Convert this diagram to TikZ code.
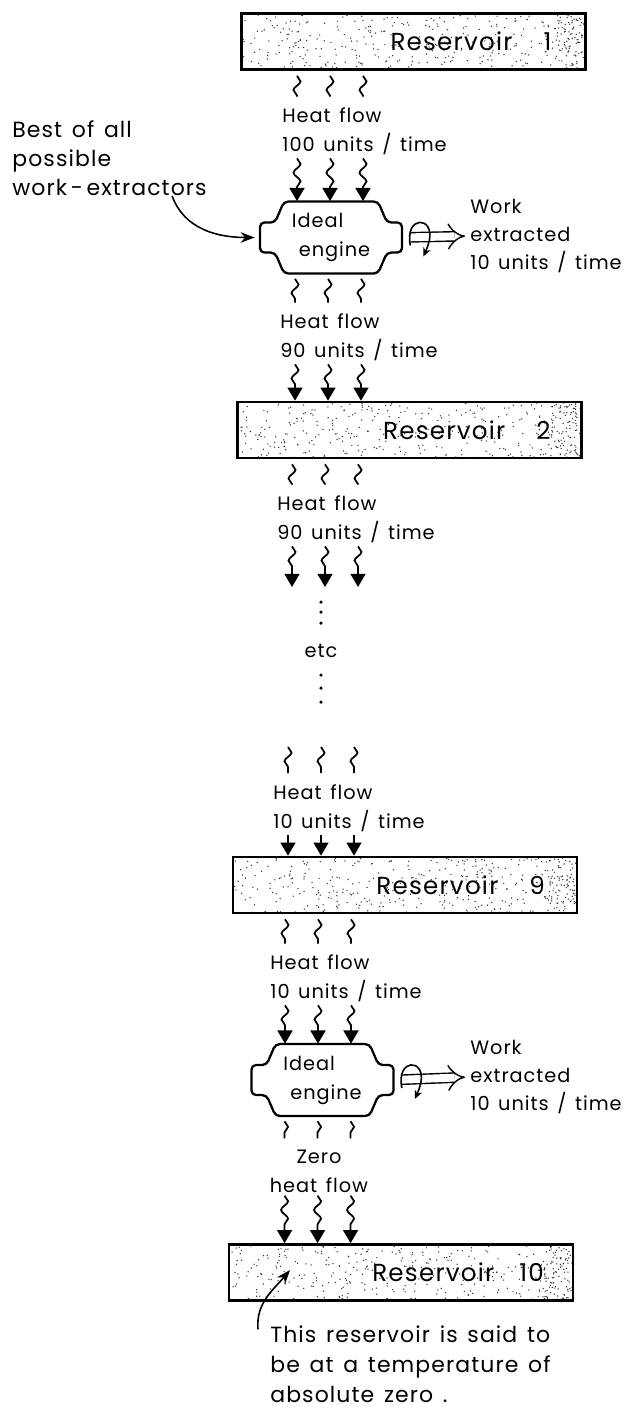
\documentclass[tikz,border=0pt]{standalone}
\usepackage{fontspec}
\setmainfont{Poppins}[LetterSpace=5, WordSpace=1.4]
\usetikzlibrary{arrows.meta,positioning,calc,decorations.pathmorphing}

\begin{document}
\begin{tikzpicture}[
  x=0.02cm, y=-0.02cm,
  font=\fontsize{11}{16.5}\selectfont,
  >={Triangle[width=8.5pt,length=7.5pt]},
  res/.style={rectangle, draw, line width=1.5pt, minimum width=6.88cm, minimum height=1.12cm, inner sep=0pt,
              path picture={
                \foreach \k in {1,...,340}{\fill[black!80] (path picture bounding box.south west) ++(344*rnd,-56*rnd) circle[radius=0.42pt];}
                \foreach \k in {1,...,80}{\fill[black!80] (path picture bounding box.south east) ++(-30*rnd,-56*rnd) circle[radius=0.42pt];}}},
  reslbl/.style={font=\fontsize{14}{16}\selectfont, inner sep=0pt},
  engine/.style={rectangle, minimum width=2.84cm, minimum height=1.44cm, align=left, inner sep=0pt},
  engline/.style={line width=1.3pt, rounded corners=2.5pt},
  flowlbl/.style={anchor=west, align=left, inner sep=0pt},
  worklbl/.style={anchor=west, align=left, inner sep=0pt, font=\fontsize{11}{15.8}\selectfont},
  note/.style={anchor=west, align=left, inner sep=0pt},
  wave/.style={decorate, decoration={snake, amplitude=2pt, segment length=10pt}, line width=1pt},
  inflow/.style={->, decorate, decoration={snake, amplitude=2pt, segment length=10pt, post length=8pt}, line width=1pt},
  work/.style={double, double distance=4.5pt, line width=0.8pt, -{Implies}, shorten <=0.16cm, shorten >=0.1cm},
  spin/.style={line width=0.9pt, -{Stealth[length=5pt,width=4.5pt]}},
  point/.style={line width=0.9pt, -{Stealth[length=8pt,width=6pt]}},
]
\useasboundingbox (0,0) rectangle (628,1411);
\pgfmathsetseed{7}

% reservoirs
\node[res] (res1)  at (413.5,41.5) {};
\node[res] (res2)  at (409.5,430) {};
\node[res] (res9)  at (405,885) {};
\node[res] (res10) at (401,1272.5) {};
\node[reslbl, left=0.7cm of res1.east]   (res1txt)  {Reservoir\hspace{0.62cm}1};
\node[reslbl, left=0.64cm of res2.east]  (res2txt)  {Reservoir\hspace{0.62cm}2};
\node[reslbl, left=0.66cm of res9.east]  (res9txt)  {Reservoir\hspace{0.62cm}9};
\node[reslbl, left=0.6cm of res10.east]  (res10txt) {Reservoir\hspace{0.5cm}10};

% engines
\node[engine] (eng1) at (331,237.5) {Ideal\\\hspace*{0.14cm}engine};
\node[engine] (eng2) at (322.5,1080) {Ideal\\\hspace*{0.14cm}engine};

% heat flow labels
\node[flowlbl] (flow1) at (282,131.5) {Heat flow\\100 units / time};
\node[flowlbl] (flow2) at (280,337.5) {Heat flow\\90 units / time};
\node[flowlbl] (flow3) at (277,519.5) {Heat flow\\90 units / time};
\node[flowlbl] (flow4) at (273,808)   {Heat flow\\10 units / time};
\node[flowlbl] (flow5) at (270,978.5) {Heat flow\\10 units / time};
\node[align=center, inner sep=0pt] (flow6) at (319,1171) {Zero\\heat flow};
\coordinate (gap1) at (0,587);
\coordinate (gap2) at (0,742);

\node (etc) at (321,651) {etc};
\foreach \dy in {-49,-39,-28,24,37,51}
  \fill ($(etc)+(0,\dy)$) circle[radius=1pt];

% work
\node[worklbl] (work1) at (470,236)  {Work\\extracted\\10 units / time};
\node[worklbl] (work2) at (470,1077) {Work\\extracted\\10 units / time};

% notes
\node[note, font=\fontsize{12.5}{16.5}\selectfont] (best) at (12,158) {Best of all\\possible\\work\,-\,extractors};
\node[note, font=\fontsize{12.5}{17}\selectfont] (zeronote) at (270,1364) {This reservoir is said to\\be at a temperature of\\absolute zero .};
\coordinate (dot10) at (290,1270);

% engine outlines, shafts
\foreach \e/\w in {eng1/work1,eng2/work2} {
  \draw[engline] (\e) ++(-47,-36) -- ++(94,0) -- ++(9,21) -- ++(15,0) -- ++(0,30) -- ++(-15,0)
    -- ++(-9,21) -- ++(-94,0) -- ++(-9,-21) -- ++(-15,0) -- ++(0,-30) -- ++(15,0) -- cycle;
  \draw[work] (\e.east) -- (\w.west);
  \draw[spin] ($(\e.east)+(8,8)$) .. controls ($(\e.east)+(2,-22)$) and ($(\e.east)+(32,-22)$) .. ($(\e.east)+(27,3)$)
    .. controls ($(\e.east)+(25,10)$) .. ($(\e.east)+(21,19)$);
}

% heat flows
\foreach \src/\lbl/\dst in {res1.south/flow1/eng1.north, eng1.south/flow2/res2.north, res2.south/flow3/gap1,
                            gap2/flow4/res9.north, res9.south/flow5/eng2.north, eng2.south/flow6/res10.north}
  \foreach \dx in {15,48,81} {
    \draw[wave] ($(\src -| \lbl.west)+(\dx,5)$) -- ($(\lbl.north west)+(\dx,-11)$);
    \draw[inflow] ($(\lbl.south west)+(\dx,3)$) -- ($(\dst -| \lbl.west)+(\dx,0)$);
  }

\draw[point] ([xshift=-0.7cm]best.south east) to[out=-70,in=180] ([xshift=-0.1cm]eng1.west);
\draw[point] ($(zeronote.north west)+(-12,4)$) to[out=95,in=230] (dot10);

\end{tikzpicture}
\end{document}
